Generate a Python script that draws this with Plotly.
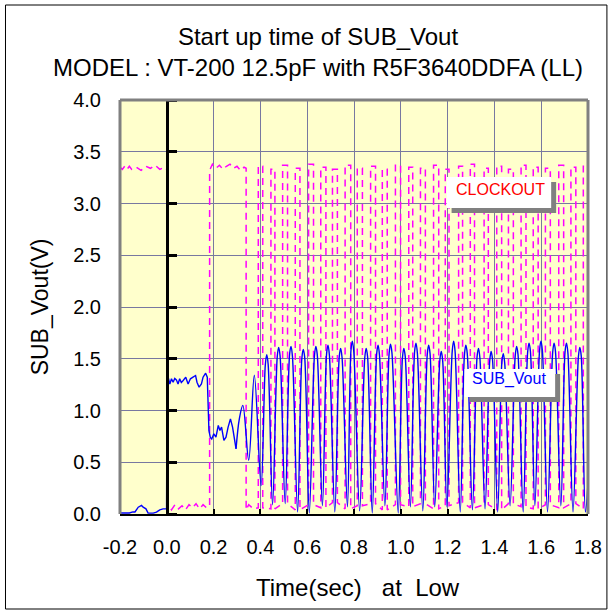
import plotly.graph_objects as go

# ---------------- data ----------------
x_ticks = [-0.2, 0.0, 0.2, 0.4, 0.6, 0.8, 1.0, 1.2, 1.4, 1.6, 1.8]
x_labels = ["-0.2", "0.0", "0.2", "0.4", "0.6", "0.8", "1.0", "1.2", "1.4", "1.6", "1.8"]
y_ticks = [0.0, 0.5, 1.0, 1.5, 2.0, 2.5, 3.0, 3.5, 4.0]
y_labels = ["0.0", "0.5", "1.0", "1.5", "2.0", "2.5", "3.0", "3.5", "4.0"]

# SUB_Vout: noisy start-up part
sub_noise_t = [-0.200, -0.180, -0.160, -0.145, -0.136, -0.122, -0.108, -0.101, -0.089, -0.080,
               -0.058, -0.044, -0.030, -0.016, -0.001, 0.001, 0.006, 0.013, 0.020, 0.027,
               0.034, 0.041, 0.048, 0.055, 0.062, 0.070, 0.081, 0.091, 0.101, 0.112,
               0.123, 0.129, 0.138, 0.148, 0.155, 0.166, 0.173, 0.180, 0.186, 0.192,
               0.201, 0.210, 0.220, 0.227, 0.234, 0.244, 0.253, 0.262, 0.272, 0.281,
               0.289, 0.296]
sub_noise_v = [0.01, 0.01, 0.01, 0.02, 0.02, 0.066, 0.083, 0.066, 0.05, 0.008,
               0.008, 0.018, 0.040, 0.050, 0.050, 1.29, 1.32, 1.256, 1.306, 1.273,
               1.31, 1.296, 1.256, 1.306, 1.27, 1.29, 1.322, 1.256, 1.306, 1.322,
               1.338, 1.273, 1.225, 1.256, 1.322, 1.361, 1.322, 0.807, 0.74, 0.725,
               0.775, 0.742, 0.856, 0.807, 0.84, 0.711, 0.742, 0.84, 0.919, 0.84,
               0.742, 0.63]

# SUB_Vout: oscillation (troughs, rounded peak tops)
sub_osc_t = [0.296, 0.310, 0.325, 0.350, 0.374, 0.403,
             0.421, 0.427, 0.433, 0.452, 0.472, 0.478, 0.484, 0.506,
             0.525, 0.531, 0.537, 0.559, 0.577, 0.583, 0.589, 0.609,
             0.631, 0.637, 0.643, 0.665, 0.683, 0.689, 0.695, 0.718,
             0.737, 0.743, 0.749, 0.772, 0.787, 0.793, 0.799, 0.824,
             0.846, 0.852, 0.858, 0.878, 0.897, 0.903, 0.909, 0.932,
             0.950, 0.956, 0.962, 0.989, 1.007, 1.013, 1.019, 1.041,
             1.059, 1.065, 1.071, 1.094, 1.113, 1.119, 1.125, 1.145,
             1.167, 1.173, 1.179, 1.197, 1.220, 1.226, 1.232, 1.254,
             1.272, 1.278, 1.284, 1.306, 1.326, 1.332, 1.338, 1.360,
             1.380, 1.386, 1.392, 1.414, 1.432, 1.438, 1.444, 1.467,
             1.489, 1.495, 1.501, 1.523, 1.542, 1.548, 1.554, 1.573,
             1.593, 1.599, 1.605, 1.627, 1.649, 1.655, 1.661, 1.684,
             1.702, 1.708, 1.714, 1.736, 1.759, 1.765, 1.771, 1.789,
             1.800]
sub_osc_v = [0.63, 0.92, 1.05, 0.52, 1.34, 0.275,
             1.44, 1.54, 1.45, 0.09, 1.52, 1.61, 1.53, 0.10,
             1.55, 1.62, 1.52, 0.02, 1.50, 1.59, 1.52, 0.01,
             1.53, 1.62, 1.54, 0.08, 1.55, 1.63, 1.53, 0.02,
             1.52, 1.60, 1.51, 0.07, 1.58, 1.67, 1.57, 0.03,
             1.51, 1.60, 1.52, 0.01, 1.55, 1.63, 1.53, 0.08,
             1.55, 1.64, 1.56, 0.01, 1.51, 1.60, 1.52, 0.07,
             1.57, 1.65, 1.55, 0.03, 1.54, 1.63, 1.55, 0.07,
             1.49, 1.57, 1.48, 0.07, 1.58, 1.67, 1.57, 0.02,
             1.54, 1.63, 1.55, 0.04, 1.52, 1.60, 1.51, 0.05,
             1.48, 1.57, 1.49, 0.02, 1.47, 1.55, 1.46, 0.08,
             1.53, 1.62, 1.54, 0.02, 1.56, 1.65, 1.57, 0.08,
             1.58, 1.67, 1.58, 0.02, 1.56, 1.65, 1.57, 0.08,
             1.57, 1.65, 1.56, 0.02, 1.52, 1.61, 1.53, 0.02,
             0.30]

# CLOCKOUT: start sequence
clock_head_t = [-0.200, -0.190, -0.180, -0.170, -0.160, -0.150, -0.130, -0.110, -0.090, -0.070,
                -0.050, -0.030, -0.010, 0.000, 0.000, 0.010, 0.020, 0.035, 0.050, 0.065,
                0.080, 0.095, 0.110, 0.125, 0.140, 0.155, 0.170, 0.183, 0.183, 0.195,
                0.210, 0.225, 0.240, 0.255, 0.270, 0.285, 0.300, 0.315, 0.330, 0.339,
                0.339, 0.350, 0.370]
clock_head_v = [3.35, 3.33, 3.36, 3.33, 3.36, 3.33, 3.35, 3.32, 3.36, 3.34,
                3.37, 3.33, 3.35, 3.33, 0.05, 0.08, 0.04, 0.09, 0.05, 0.08,
                0.04, 0.09, 0.06, 0.10, 0.05, 0.09, 0.06, 0.08, 3.32, 3.38,
                3.34, 3.37, 3.33, 3.36, 3.38, 3.34, 3.36, 3.32, 3.35, 3.34,
                0.04, 0.09, 0.05]

# CLOCKOUT: pulses
pulse_rise = [0.391, 0.445, 0.495, 0.549, 0.606, 0.658, 0.708, 0.762, 0.814, 0.871,
              0.921, 0.977, 1.034, 1.084, 1.140, 1.190, 1.247, 1.297, 1.356, 1.410,
              1.460, 1.514, 1.566, 1.618, 1.675, 1.727, 1.780]
pulse_fall = [0.410, 0.462, 0.516, 0.569, 0.627, 0.680, 0.729, 0.786, 0.836, 0.892,
              0.942, 0.999, 1.051, 1.105, 1.162, 1.206, 1.264, 1.315, 1.374, 1.431,
              1.481, 1.535, 1.587, 1.639, 1.696, 1.748, 1.800]
pulse_high = [3.36, 3.33, 3.37, 3.34, 3.38, 3.35, 3.33, 3.37, 3.34, 3.36,
              3.33, 3.37, 3.35, 3.34, 3.37, 3.33, 3.36, 3.38, 3.34, 3.36,
              3.33, 3.37, 3.35, 3.34, 3.37, 3.35, 3.36]
pulse_low = [0.06, 0.05, 0.10, 0.04, 0.09, 0.06, 0.11, 0.05, 0.08, 0.10,
             0.04, 0.09, 0.07, 0.10, 0.05, 0.08, 0.11, 0.06, 0.09, 0.04,
             0.10, 0.07, 0.05, 0.09, 0.06, 0.10, 0.05]

# ---------------- build clock path ----------------
clock_t = list(clock_head_t)
clock_v = list(clock_head_v)
for r, f, h, lo in zip(pulse_rise, pulse_fall, pulse_high, pulse_low):
    clock_t += [r, r, f, f]
    clock_v += [lo, h, h, lo]

# ---------------- layout helpers (pixel -> paper) ----------------
L, R, T, B = 120, 24, 100, 100
W = H = 614
PW, PH = W - L - R, H - T - B


def px(x):
    return (x - L) / PW


def py(y):
    return (H - B - y) / PH


fig = go.Figure()
fig.add_trace(go.Scatter(x=clock_t, y=clock_v, mode="lines", name="CLOCKOUT",
                         line=dict(color="#FF00FF", width=1.5, dash="7px,5px"),
                         hoverinfo="skip"))
fig.add_trace(go.Scatter(x=sub_noise_t, y=sub_noise_v, mode="lines", name="SUB_Vout",
                         line=dict(color="#0000FF", width=1.4), yaxis="y2",
                         hoverinfo="skip"))
fig.add_trace(go.Scatter(x=sub_osc_t, y=sub_osc_v, mode="lines", name="SUB_Vout",
                         line=dict(color="#0000FF", width=1.4, shape="spline", smoothing=1.0),
                         yaxis="y2", hoverinfo="skip"))

grid = "#7878A0"
fig.update_layout(
    width=W, height=H,
    margin=dict(l=L, r=R, t=T, b=B),
    paper_bgcolor="white",
    plot_bgcolor="#FFFFCC",
    showlegend=False,
    font=dict(family="Liberation Sans, Arial, sans-serif", color="black", size=20),
    xaxis=dict(range=[-0.2, 1.8], tickvals=x_ticks, ticktext=x_labels,
               showgrid=True, gridcolor=grid, gridwidth=1, zeroline=False,
               showline=True, linecolor="black", linewidth=2,
               ticks="inside", ticklen=5, tickwidth=2, tickcolor="black",
               tickfont=dict(size=20), ticklabelstandoff=14),
    yaxis=dict(range=[0, 4], tickvals=y_ticks, ticktext=y_labels,
               showgrid=True, gridcolor=grid, gridwidth=1, zeroline=False,
               showline=False, ticks="", tickfont=dict(size=20),
               ticklabelstandoff=18),
    yaxis2=dict(range=[0, 4], overlaying="y", anchor="free", position=0.1, side="right",
                tickvals=y_ticks, showticklabels=False, showgrid=False, zeroline=False,
                showline=True, linecolor="black", linewidth=3,
                ticks="outside", ticklen=8, tickwidth=2.5, tickcolor="black"),
)

shapes = []
# gray plot border: top, left, right
for (x0, y0, x1, y1) in [(0, 1, 1, 1), (0, 0, 0, 1), (1, 0, 1, 1)]:
    shapes.append(dict(type="line", xref="x domain", yref="y domain",
                       x0=x0, y0=y0, x1=x1, y1=y1,
                       line=dict(color="#808080", width=3), layer="above"))
# outer black frame
shapes.append(dict(type="rect", xref="paper", yref="paper",
                   x0=px(5), x1=px(609), y0=py(609), y1=py(5),
                   line=dict(color="black", width=1)))
# legend boxes with shadows
for (bx0, by0, bx1, by1) in [(448, 177, 553, 208), (466, 369, 557, 397)]:
    shapes.append(dict(type="rect", xref="paper", yref="paper",
                       x0=px(bx0 + 5), x1=px(bx1 + 5), y0=py(by1 + 5), y1=py(by0 + 5),
                       fillcolor="#808080", line=dict(width=0), layer="above"))
    shapes.append(dict(type="rect", xref="paper", yref="paper",
                       x0=px(bx0), x1=px(bx1), y0=py(by1), y1=py(by0),
                       fillcolor="white", line=dict(width=0), layer="above"))
fig.update_layout(shapes=shapes)

NB = "\u00a0"
annotations = [
    dict(text="Start up time of SUB_Vout<br>MODEL : VT-200 12.5pF with R5F3640DDFA (LL)",
         xref="paper", yref="paper", x=px(319), y=py(52), xanchor="center", yanchor="middle",
         showarrow=False, font=dict(size=24, color="black")),
    dict(text="Time(sec)" + NB * 3 + "at" + NB * 2 + "Low", xref="paper", yref="paper",
         x=px(359), y=py(587), xanchor="center", yanchor="middle", showarrow=False,
         font=dict(size=24)),
    dict(text="SUB_Vout(V)", xref="paper", yref="paper", x=px(40), y=py(307),
         xanchor="center", yanchor="middle", textangle=-90, showarrow=False,
         font=dict(size=23)),
    dict(text="CLOCKOUT", xref="paper", yref="paper", x=px(455), y=py(189),
         xanchor="left", yanchor="middle", showarrow=False,
         font=dict(size=16, color="#FF0000")),
    dict(text="SUB_Vout", xref="paper", yref="paper", x=px(471), y=py(379),
         xanchor="left", yanchor="middle", showarrow=False,
         font=dict(size=16, color="#0000FF")),
]
fig.update_layout(annotations=annotations)

fig.write_html("out.html", config={"displayModeBar": False},
               post_script="document.body.style.margin='0';")
